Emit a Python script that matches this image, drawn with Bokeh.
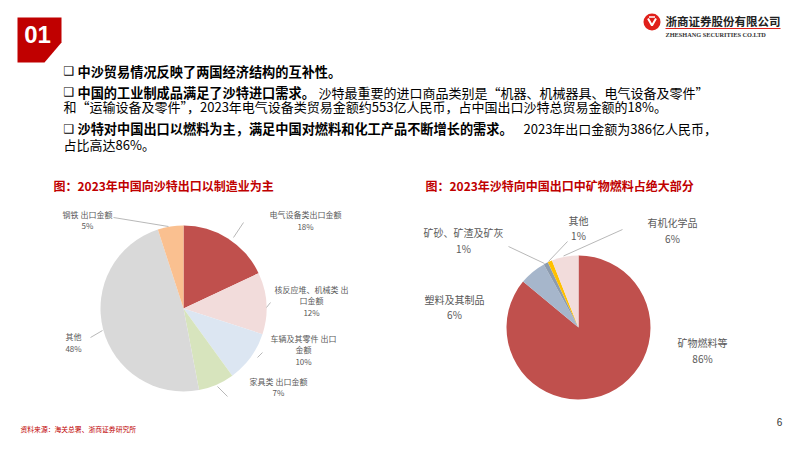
import math
from bokeh.plotting import figure
from bokeh.models import Range1d, ColumnDataSource
from bokeh.embed import file_html
from bokeh.resources import INLINE
from bokeh.core.properties import value

# ---------------- data ----------------
cn_categories = ["电气设备类出口金额", "核反应堆、机械类 出口金额", "车辆及其零件 出口金额",
                 "家具类 出口金额", "其他", "钢铁 出口金额"]
cn_shares = [18, 12, 10, 7, 48, 5]

sa_categories = ["矿物燃料等", "塑料及其制品", "矿砂、矿渣及矿灰", "其他", "有机化学品"]
sa_shares = [86, 6, 1, 1, 6]

title_left = "图：2023年中国向沙特出口以制造业为主"
title_right = "图：2023年沙特向中国出口中矿物燃料占绝大部分"

# ---------------- styles / layout ----------------
CJK = "Noto Sans CJK SC"
RED = "#C00000"
cn_colors = ["#C0504D", "#F2DCDB", "#DCE6F2", "#D7E4BD", "#D9D9D9", "#FAC090"]
sa_colors = ["#C0504D", "#A6B6CB", "#8C9BAE", "#FFC000", "#F2DCDB"]

W, H = 786, 435
p = figure(width=W, height=H, output_backend="svg", toolbar_location=None,
           x_range=Range1d(0, W), y_range=Range1d(H, 0),
           x_axis_type=None, y_axis_type=None, min_border=0)
p.grid.visible = False
p.outline_line_color = None
p.background_fill_color = "white"


def txt(x, y, s, size, color="#000000", bold=False, align="left", font=CJK):
    p.text(x=[x], y=[y], text=[s], text_font=value(font), text_font_size=size,
           text_color=color, text_font_style="bold" if bold else "normal",
           text_align=align, text_baseline="middle")


def pie(cx, cy, r, shares, colors):
    total = float(sum(shares))
    starts, ends = [], []
    cum = 0.0
    for s in shares:
        starts.append(math.pi / 2 - 2 * math.pi * (cum + s) / total)
        ends.append(math.pi / 2 - 2 * math.pi * cum / total)
        cum += s
    n = len(shares)
    src = ColumnDataSource(dict(x=[cx] * n, y=[cy] * n, start=starts, end=ends, color=colors))
    p.wedge(x="x", y="y", radius=r, radius_units="screen", start_angle="start",
            end_angle="end", fill_color="color", line_color=None, source=src)


def labels(names, shares, pos, leaders, size, lh, wrap=None):
    wrap = wrap or {}
    for i, (nm, sh) in enumerate(zip(names, shares)):
        x, y = pos[i]
        if i in wrap:
            k = wrap[i]
            lines = [nm[:k], nm[k:]]
        else:
            lines = [nm]
        lines.append(f"{sh}%")
        for j, ln in enumerate(lines):
            txt(x, y + j * lh, ln, size, "#595959", align="center")
        if leaders[i] is not None:
            (x0, y0), (x1, y1) = leaders[i]
            p.segment(x0=[x0], y0=[y0], x1=[x1], y1=[y1], line_color="#A6A6A6", line_width=0.8)


# ---------------- header ----------------
p.patch(x=[17, 61, 61, 44, 17], y=[17, 17, 42, 62, 62], fill_color="#C00000", line_color=None)
txt(37, 34, "01", "24px", "white", bold=True, align="center", font="Liberation Sans")

# logo
p.scatter(x=[651.5], y=[21.5], size=17, marker="circle", fill_color="#E0201B", line_color=None)
p.line(x=[647.5, 651.5, 655.5], y=[18, 25, 18], line_color="white", line_width=2)
p.line(x=[648.5, 654.5], y=[16.5, 16.5], line_color="white", line_width=1.5)
txt(665, 20, "浙商证券股份有限公司", "11.5px", "#222222", bold=True)
p.segment(x0=[665], y0=[28], x1=[780], y1=[28], line_color="#E0201B", line_width=1)
txt(665, 33.5, "ZHESHANG SECURITIES CO.LTD", "6.3px", "#333333", bold=True, font="Liberation Serif")

# ---------------- bullet text ----------------
for by in (70.5, 91.5, 128):
    txt(63, by, "❑", "12px", "#000000", bold=True, font="DejaVu Sans")
txt(77, 70.5, "中沙贸易情况反映了两国经济结构的互补性。", "13.2px", "#000000", bold=True)
txt(77, 91.5, "中国的工业制成品满足了沙特进口需求。", "13.2px", "#000000", bold=True)
txt(318, 91.5, "沙特最重要的进口商品类别是“机器、机械器具、电气设备及零件”", "13px", "#000000")
txt(63, 105.5, "和“运输设备及零件”，2023年电气设备类贸易金额约553亿人民币，占中国出口沙特总贸易金额的18%。",
    "13px", "#000000")
txt(77, 128, "沙特对中国出口以燃料为主，满足中国对燃料和化工产品不断增长的需求。", "13.2px", "#000000", bold=True)
txt(523, 128, "2023年出口金额为386亿人民币，", "13px", "#000000")
txt(63, 144, "占比高达86%。", "13px", "#000000")

# ---------------- chart titles ----------------
txt(53, 185, title_left, "12px", RED, bold=True)
txt(425, 185, title_right, "12px", RED, bold=True)

# ---------------- left pie ----------------
pie(183, 308, 83, cn_shares, cn_colors)
cn_label_pos = [(305, 214), (311, 288.5), (303, 337.5), (278, 380.5), (73, 336), (87, 213.5)]
cn_leaders = [((243, 222), (233, 237)), ((270, 302), (266, 307)), ((262, 352), (257, 357)),
              ((217, 386), (227, 396)), ((90, 337), (102, 330)), ((113, 217), (168, 226))]
labels(cn_categories, cn_shares, cn_label_pos, cn_leaders, "8px", 11.8, wrap={1: 10, 2: 9})

# ---------------- right pie ----------------
pie(578, 327, 72, sa_shares, sa_colors)
sa_label_pos = [(702, 342), (454, 298.5), (463, 232), (578, 219.5), (672, 222)]
sa_leaders = [None, None, ((508, 246), (544, 263)),
              ((567, 241), (548, 261)), ((622, 229), (563, 255.5))]
labels(sa_categories, sa_shares, sa_label_pos, sa_leaders, "10px", 15.5)

# ---------------- footer ----------------
txt(20, 428.5, "资料来源：海关总署、浙商证券研究所", "6.8px", RED)
txt(779, 421, "6", "10px", "#333333", align="center", font="Liberation Sans")

open("out.html", "w").write(file_html(p, INLINE))
